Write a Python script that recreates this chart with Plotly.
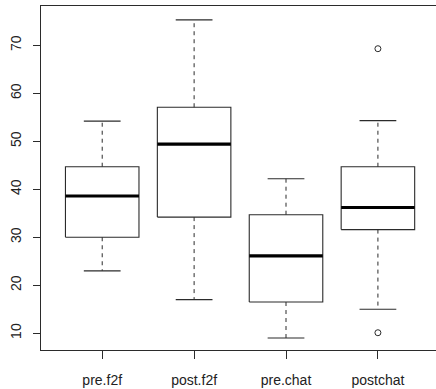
import plotly.graph_objects as go

categories = ["pre.f2f", "post.f2f", "pre.chat", "postchat"]
whisker_low = [23, 17, 9, 15]
q1 = [30, 34.2, 16.5, 31.6]
median = [38.6, 49.4, 26.1, 36.2]
q3 = [44.7, 57.1, 34.7, 44.7]
whisker_high = [54.2, 75.3, 42.2, 54.3]
outlier_cat = [4, 4]
outlier_val = [69.3, 10.1]
y_ticks = [10, 20, 30, 40, 50, 60, 70]

HALF = 0.4   # box half width in category units
CAP = 0.2    # whisker cap half width
LINE = "#2b2b2b"

fig = go.Figure()

for i, name in enumerate(categories):
    x = i + 1
    # box outline
    fig.add_trace(go.Scatter(
        x=[x - HALF, x + HALF, x + HALF, x - HALF, x - HALF],
        y=[q1[i], q1[i], q3[i], q3[i], q1[i]],
        mode="lines", line=dict(color=LINE, width=1.1),
        hoverinfo="skip", showlegend=False))
    # median
    fig.add_trace(go.Scatter(
        x=[x - HALF, x + HALF], y=[median[i], median[i]],
        mode="lines", line=dict(color="black", width=3.2),
        hoverinfo="skip", showlegend=False))
    # whiskers (dashed)
    fig.add_trace(go.Scatter(
        x=[x, x, None, x, x],
        y=[q3[i], whisker_high[i], None, q1[i], whisker_low[i]],
        mode="lines", line=dict(color=LINE, width=1, dash="4px,4px"),
        hoverinfo="skip", showlegend=False))
    # caps
    fig.add_trace(go.Scatter(
        x=[x - CAP, x + CAP, None, x - CAP, x + CAP],
        y=[whisker_high[i], whisker_high[i], None, whisker_low[i], whisker_low[i]],
        mode="lines", line=dict(color=LINE, width=1.1),
        hoverinfo="skip", showlegend=False))

fig.add_trace(go.Scatter(
    x=outlier_cat, y=outlier_val, mode="markers",
    marker=dict(symbol="circle-open", size=6, color=LINE, line=dict(width=1)),
    hoverinfo="skip", showlegend=False))

font = dict(family="Liberation Sans, Arial, sans-serif", size=14, color="#222222")

fig.update_layout(
    width=436, height=389,
    margin=dict(l=41, r=0, t=6, b=39),
    paper_bgcolor="white", plot_bgcolor="white",
    font=font,
    xaxis=dict(
        range=[0.334, 4.632], tickvals=[1, 2, 3, 4], ticktext=categories,
        showgrid=False, zeroline=False, showline=True, mirror=True,
        linecolor=LINE, linewidth=1, ticks="outside", ticklen=8,
        tickcolor=LINE, tickfont=font, ticklabelstandoff=9),
    yaxis=dict(
        range=[6.5, 78.2], tickvals=y_ticks,
        showgrid=False, zeroline=False, showline=True,
        linecolor=LINE, linewidth=1, ticks="outside", ticklen=7,
        tickcolor=LINE, tickfont=font, tickangle=-90, ticklabelstandoff=6),
)

fig.write_html("out.html")
